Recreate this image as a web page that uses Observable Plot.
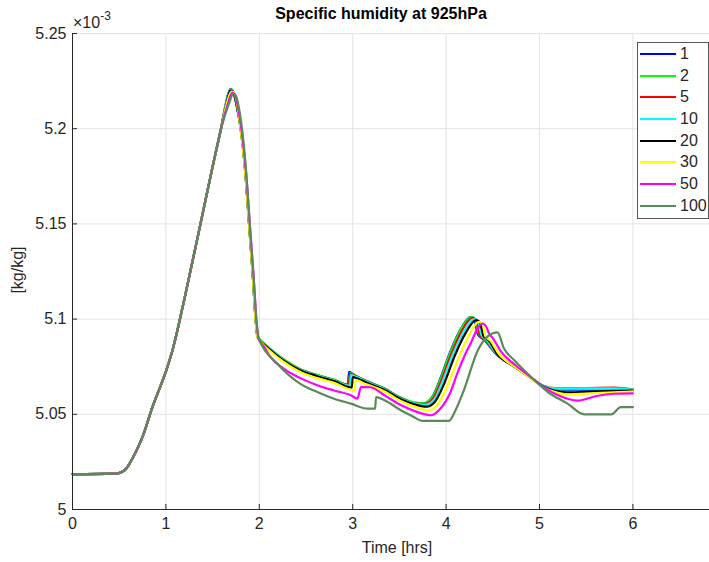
<!DOCTYPE html>
<html><head><meta charset="utf-8">
<script src="https://cdn.jsdelivr.net/npm/d3@7"></script>
<script src="https://cdn.jsdelivr.net/npm/@observablehq/plot@0.6"></script>
<style>
body{margin:0;background:#fff;font-family:"Liberation Sans",Arial,sans-serif;color:#262626}
#wrap{position:relative;width:709px;height:562px;overflow:hidden;background:#fff}
#chart{position:absolute;left:0;top:0}
.abs{position:absolute;white-space:nowrap}
#title{left:381px;top:5px;transform:translateX(-50%);font-weight:bold;font-size:16px;color:#000}
#xlab{left:397px;top:539px;transform:translateX(-50%);font-size:16px}
#ylab{left:18px;top:270px;transform:translate(-50%,-50%) rotate(-90deg);font-size:16px}
#exp{left:73px;top:11px;font-size:16px}
#exp sup{font-size:12px;position:relative;top:-2px}
#legend{left:637px;top:42px;width:70px;height:175px;border:1px solid #555;background:#fff}
.li{position:absolute;left:2px;height:20px;display:flex;align-items:center;font-size:16px}
.li span.sw{display:inline-block;width:36px;height:2px;margin-right:4px}
</style>
</head><body>
<div id="wrap">
<div id="chart"></div>
<div class="abs" id="title">Specific humidity at 925hPa</div>
<div class="abs" id="exp">×10<sup>-3</sup></div>
<div class="abs" id="xlab">Time [hrs]</div>
<div class="abs" id="ylab">[kg/kg]</div>
<div class="abs" id="legend"></div>
</div>
<script>
// Values in units of 10^-3 kg/kg
const names = ["1","2","5","10","20","30","50","100"];
const colors = ["#0000ff","#00ff00","#ff0000","#00ffff","#000000","#ffff00","#ff00ff","#5a8a5a"];
const xTicks = [0,1,2,3,4,5,6];
const yTicks = [5,5.05,5.1,5.15,5.2,5.25];

// shared early rise (all runs identical)
const riseT = [0, 0.45, 0.52, 0.56, 0.60, 0.65, 0.70, 0.76, 0.85, 1.0, 1.07, 1.2, 1.37, 1.5, 1.59];
const riseQ = [5.0185, 5.0188, 5.0195, 5.0207, 5.0232, 5.0276, 5.0325, 5.0395, 5.053, 5.0725, 5.0835, 5.111, 5.150, 5.180, 5.200];

const t1 = [1.64,1.69,1.72,1.76,1.80,1.85,1.89,1.93,1.96,1.98,2.05,2.12,2.26,2.44,2.62,2.80,2.95,2.96,3.00,3.05,3.16,3.34,3.52,3.66,3.76,3.85,3.94,4.05,4.16,4.26,4.30,4.34,4.41,4.52,4.73,4.91,5.05,5.16,5.50,5.80,6.00];
const q1 = [5.2125,5.2209,5.2195,5.2115,5.200,5.177,5.150,5.123,5.100,5.0910,5.0870,5.0840,5.0786,5.0735,5.0705,5.0680,5.0655,5.0723,5.0712,5.0697,5.0672,5.0635,5.0585,5.0560,5.0558,5.0590,5.0690,5.0835,5.0950,5.1010,5.1000,5.0920,5.0890,5.0825,5.0752,5.0690,5.0645,5.0630,5.0630,5.0632,5.0626];

const t2 = [1.64,1.69,1.72,1.76,1.80,1.85,1.89,1.93,1.96,1.98,2.05,2.12,2.26,2.44,2.62,2.80,2.96,2.97,3.01,3.06,3.16,3.34,3.52,3.66,3.76,3.85,3.94,4.05,4.16,4.27,4.31,4.35,4.42,4.52,4.73,4.91,5.05,5.16,5.50,5.80,6.00];
const q2 = [5.2125,5.2207,5.2197,5.2122,5.201,5.178,5.151,5.124,5.101,5.0912,5.0873,5.0843,5.0789,5.0737,5.0707,5.0682,5.0655,5.0716,5.0708,5.0695,5.0672,5.0636,5.0587,5.0562,5.0558,5.0588,5.0685,5.0830,5.0948,5.1012,5.1002,5.0922,5.0892,5.0826,5.0753,5.0692,5.0646,5.0632,5.0633,5.0634,5.0628];

const t5 = [1.64,1.69,1.72,1.76,1.80,1.85,1.89,1.93,1.96,1.98,2.05,2.12,2.26,2.44,2.62,2.80,2.96,2.97,3.01,3.06,3.16,3.34,3.52,3.66,3.77,3.86,3.95,4.06,4.17,4.28,4.32,4.36,4.43,4.52,4.73,4.91,5.05,5.16,5.50,5.80,6.00];
const q5 = [5.2125,5.2206,5.2196,5.2118,5.2005,5.1775,5.1505,5.1235,5.1005,5.0910,5.0870,5.0840,5.0786,5.0734,5.0704,5.0679,5.0653,5.0712,5.0705,5.0693,5.0670,5.0634,5.0584,5.0558,5.0554,5.0582,5.0678,5.0822,5.0940,5.1006,5.0998,5.0918,5.0890,5.0826,5.0752,5.0692,5.0648,5.0637,5.0638,5.0640,5.0630];

const t10 = [1.64,1.69,1.72,1.76,1.80,1.85,1.89,1.93,1.96,1.98,2.05,2.12,2.26,2.44,2.62,2.80,2.97,2.98,3.02,3.07,3.16,3.34,3.52,3.67,3.78,3.87,3.96,4.07,4.19,4.30,4.34,4.38,4.44,4.53,4.73,4.91,5.05,5.16,5.50,5.80,6.00];
const q10 = [5.2125,5.2205,5.2197,5.2120,5.2003,5.1773,5.1503,5.1233,5.1003,5.0909,5.0869,5.0839,5.0785,5.0733,5.0703,5.0678,5.0650,5.0706,5.0700,5.0690,5.0668,5.0632,5.0582,5.0556,5.0550,5.0576,5.0670,5.0812,5.0935,5.1000,5.0990,5.0915,5.0888,5.0824,5.0751,5.0691,5.0647,5.0636,5.0636,5.0636,5.0630];

const t20 = [1.64,1.69,1.72,1.76,1.80,1.85,1.89,1.93,1.96,1.98,2.05,2.12,2.26,2.44,2.62,2.80,2.99,3.00,3.04,3.09,3.17,3.34,3.52,3.68,3.79,3.88,3.98,4.09,4.21,4.32,4.36,4.40,4.46,4.54,4.73,4.91,5.05,5.16,5.30,5.60,6.00];
const q20 = [5.2115,5.2200,5.2195,5.2120,5.2003,5.1773,5.1503,5.1233,5.1003,5.0908,5.0866,5.0836,5.0782,5.0730,5.0700,5.0674,5.0640,5.0696,5.0690,5.0680,5.0662,5.0628,5.0578,5.0550,5.0540,5.0566,5.0662,5.0805,5.0928,5.0995,5.0985,5.0912,5.0886,5.0822,5.0750,5.0690,5.0643,5.0625,5.0615,5.0620,5.0625];

const t30 = [1.65,1.70,1.73,1.77,1.80,1.85,1.89,1.93,1.96,1.98,2.05,2.12,2.26,2.44,2.62,2.80,3.02,3.03,3.07,3.12,3.18,3.34,3.52,3.69,3.80,3.90,4.00,4.12,4.24,4.35,4.39,4.42,4.48,4.56,4.74,4.91,5.05,5.16,5.30,5.60,6.00];
const q30 = [5.2130,5.2195,5.2190,5.2105,5.1995,5.1765,5.1495,5.1225,5.0995,5.0905,5.0862,5.0830,5.0775,5.0722,5.0690,5.0665,5.0626,5.0679,5.0675,5.0662,5.0652,5.0620,5.0568,5.0535,5.0520,5.0545,5.0635,5.0780,5.0910,5.0985,5.0975,5.0910,5.0884,5.0820,5.0748,5.0688,5.0640,5.0618,5.0605,5.0612,5.0620];

const t50 = [1.66,1.71,1.74,1.78,1.81,1.86,1.90,1.94,1.97,1.99,2.05,2.12,2.26,2.44,2.62,2.80,2.98,3.05,3.09,3.19,3.34,3.52,3.70,3.84,3.94,4.05,4.12,4.20,4.27,4.33,4.39,4.43,4.46,4.50,4.58,4.75,4.92,5.05,5.20,5.41,5.60,5.80,6.00];
const q50 = [5.2125,5.2188,5.2180,5.2090,5.1990,5.1760,5.1490,5.1220,5.0990,5.0900,5.0855,5.0800,5.0740,5.0690,5.0653,5.0625,5.0600,5.0582,5.0644,5.0642,5.0600,5.0547,5.0510,5.0495,5.0530,5.0620,5.0715,5.0810,5.0880,5.0945,5.0977,5.0960,5.0924,5.0900,5.0835,5.0755,5.0690,5.0640,5.0600,5.0572,5.0595,5.0608,5.0610];

const t100 = [1.67,1.72,1.75,1.79,1.82,1.86,1.90,1.94,1.97,1.99,2.01,2.19,2.44,2.62,2.80,2.98,3.16,3.24,3.25,3.34,3.52,3.64,3.75,4.03,4.10,4.19,4.34,4.44,4.55,4.62,4.73,4.91,5.09,5.30,5.48,5.77,5.87,6.00];
const q100 = [5.2125,5.2180,5.2172,5.2085,5.1980,5.1770,5.1480,5.1210,5.0990,5.0905,5.0880,5.0767,5.0660,5.0617,5.0582,5.0556,5.0530,5.0530,5.0590,5.0574,5.0520,5.0490,5.0465,5.0465,5.0520,5.0626,5.0837,5.0907,5.0930,5.0845,5.0784,5.0696,5.0617,5.0556,5.0500,5.0500,5.0538,5.0538];

const runsT = [t1,t2,t5,t10,t20,t30,t50,t100];
const runsQ = [q1,q2,q5,q10,q20,q30,q50,q100];

const data = names.flatMap((name, k) => [
  ...riseT.map((t, i) => ({name, t, q: riseQ[i]})),
  ...runsT[k].map((t, i) => ({name, t, q: runsQ[k][i]}))
]);

const chart = Plot.plot({
  width: 709, height: 562,
  marginLeft: 72, marginRight: 0, marginTop: 33, marginBottom: 53,
  style: {fontSize: "16px", fontFamily: "Liberation Sans, Arial, sans-serif", color: "#262626", background: "#fff"},
  x: {domain: [0, 6.82], label: null},
  y: {domain: [5, 5.25], label: null},
  color: {domain: names, range: colors},
  marks: [
    Plot.gridX(xTicks, {stroke: "#e3e3e3", strokeOpacity: 1}),
    Plot.gridY(yTicks, {stroke: "#e3e3e3", strokeOpacity: 1}),
    Plot.axisX(xTicks, {tickSize: -5, tickPadding: 13, tickFormat: d => String(d), label: null}),
    Plot.axisY(yTicks, {tickSize: -5, tickPadding: 11, tickFormat: d => String(+d.toFixed(2)), label: null}),
    Plot.line(data, {x: "t", y: "q", z: "name", stroke: "name", strokeWidth: 2.2, curve: "monotone-x"}),
    Plot.ruleX([0], {stroke: "#262626"}),
    Plot.ruleY([5], {stroke: "#262626"})
  ]
});
document.getElementById("chart").appendChild(chart);

const leg = document.getElementById("legend");
names.forEach((n, i) => {
  const d = document.createElement("div");
  d.className = "li";
  d.style.top = (1 + i * 21.67) + "px";
  d.innerHTML = `<span class="sw" style="background:${colors[i]}"></span>${n}`;
  leg.appendChild(d);
});
</script>
</body></html>
